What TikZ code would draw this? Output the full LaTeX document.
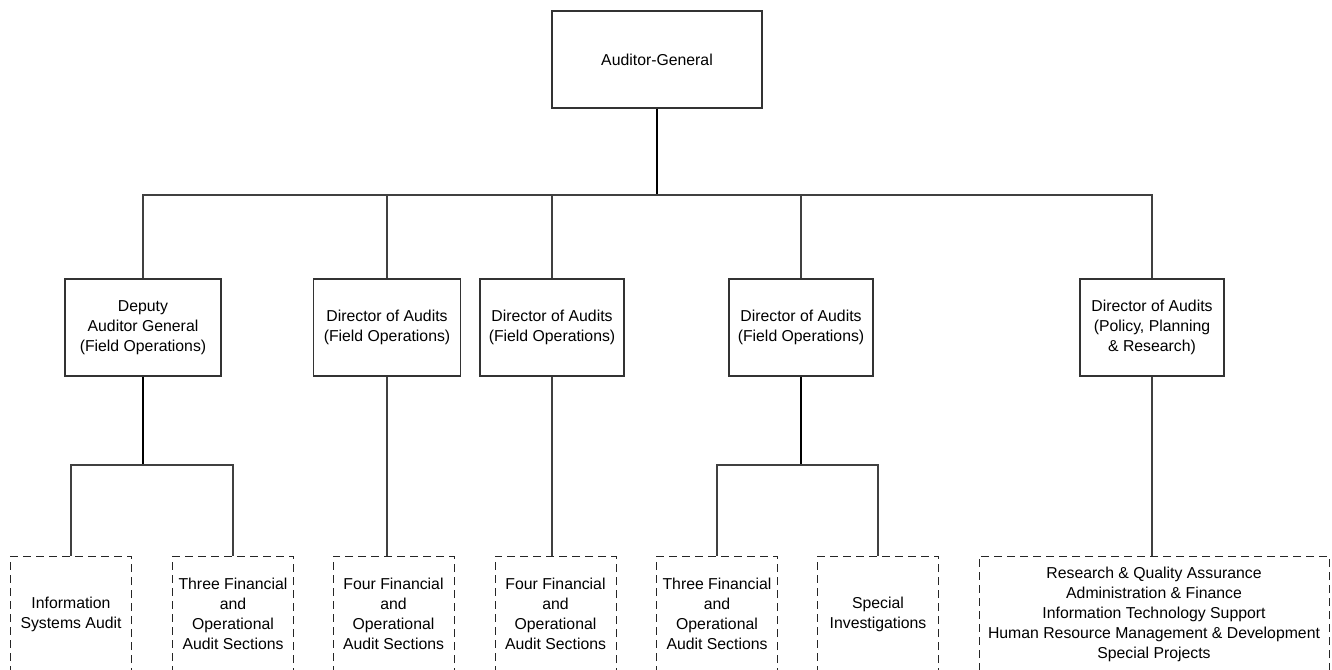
\documentclass[tikz,border=0pt]{standalone}
\usepackage{fontspec}
\setmainfont{Liberation Sans}
\begin{document}
\begin{tikzpicture}[x=1pt,y=-1pt,
  every node/.style={font=\fontsize{15.8}{20}\selectfont, align=center, inner sep=0pt},
  unit/.style={draw=black!80, line width=1.1pt, fill=white, minimum height=97pt},
  section/.style={draw=black!85, line width=1pt, dash pattern=on 8pt off 5pt, minimum height=116pt, minimum width=121pt},
  link/.style={draw=black!75, line width=1.2pt},
  stem/.style={draw=black, line width=2pt}]
\clip (0,0) rectangle (1332,669);
\fill[white] (0,0) rectangle (1332,669);

% reporting levels
\coordinate (busY) at (0,195);
\coordinate (subY) at (0,465);

% head of office
\node[unit, minimum width=210pt] (ag) at (657,59.5) {Auditor-General};

% second level
\node[unit, minimum width=156pt] (b1) at (143,327.5) {Deputy\\Auditor General\\(Field Operations)};
\node[unit, minimum width=147pt] (b2) at (387,327.5) {Director of Audits\\(Field Operations)};
\node[unit, minimum width=144pt] (b3) at (552,327.5) {Director of Audits\\(Field Operations)};
\node[unit, minimum width=144pt] (b4) at (801,327.5) {Director of Audits\\(Field Operations)};
\node[unit, minimum width=144pt] (b5) at (1152,327.5) {Director of Audits\\(Policy, Planning\\\& Research)};

% sections
\node[section] (dA) at (71,614) {Information\\Systems Audit};
\node[section] (dB) at (233,614) {Three Financial\\and\\Operational\\Audit Sections};
\node[section] (dC) at (393.5,614) {Four Financial\\and\\Operational\\Audit Sections};
\node[section] (dD) at (555.5,614) {Four Financial\\and\\Operational\\Audit Sections};
\node[section] (dE) at (717,614) {Three Financial\\and\\Operational\\Audit Sections};
\node[section] (dF) at (878,614) {Special\\Investigations};
\node[section, minimum width=350pt] (dG) at (1154,614) {Research \& Quality Assurance\\Administration \& Finance\\Information Technology Support\\Human Resource Management \& Development\\Special Projects};

% top bus
\draw[stem] (ag.south) -- (ag.south |- busY);
\draw[link] (b1.north) -- (b1.north |- busY) -- (b5.north |- busY) -- (b5.north);
\draw[link] (b2.north) -- (b2.north |- busY);
\draw[link] (b3.north) -- (b3.north |- busY);
\draw[link] (b4.north) -- (b4.north |- busY);

% deputy's sections
\draw[stem, line width=1.6pt] (b1.south) -- (b1.south |- subY);
\draw[link] (dA.north) -- (dA.north |- subY) -- (dB.north |- subY) -- (dB.north);

% single-section directors
\draw[link] (b2.south) -- (b2.south |- dC.north);
\draw[link] (b3.south) -- (b3.south |- dD.north);
\draw[link] (b5.south) -- (b5.south |- dG.north);

% third director's sections
\draw[stem, line width=1.6pt] (b4.south) -- (b4.south |- subY);
\draw[link] (dE.north) -- (dE.north |- subY) -- (dF.north |- subY) -- (dF.north);
\end{tikzpicture}
\end{document}
